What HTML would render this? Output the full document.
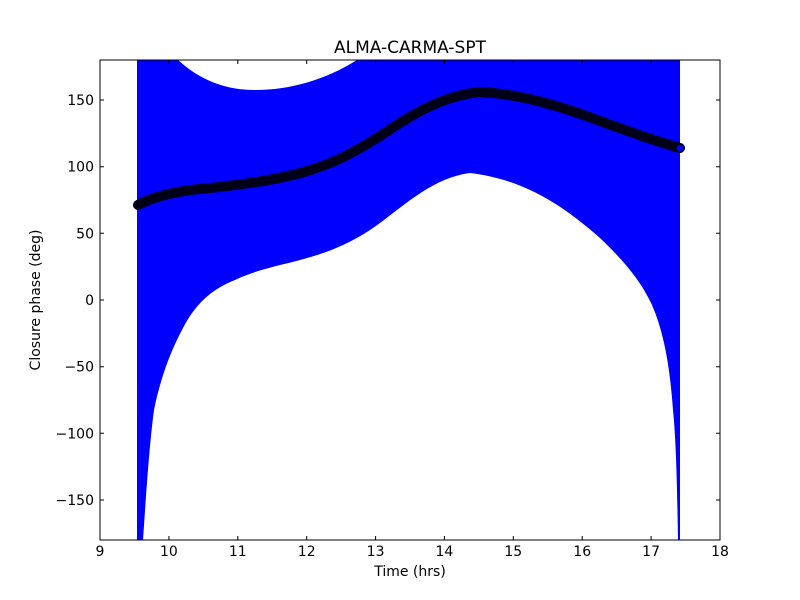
<!DOCTYPE html>
<html><head><style>body{margin:0;background:#fff}svg{display:block}text{font-family:"DejaVu Sans","Liberation Sans",sans-serif;fill:#000}</style></head><body>
<svg width="800" height="600" viewBox="0 0 800 600">
<defs><clipPath id="c"><rect x="100" y="60" width="620" height="480"/></clipPath></defs>
<g clip-path="url(#c)">
<path fill="#0000ff" d="M137,60 L178,60 C200,80 225,90 255,90 C290,90 325,80 357,60 L680,60 L680,540 L678,540 C677,480 676,440 673,410 C670,370 665,335 652,305 C640,280 625,262 600,238 C570,212 530,180 470,173 C430,178 400,210 370,230 C340,250 310,258 280,265 C260,270 245,275 235,280 C210,290 195,305 183,328 C170,352 160,380 154,410 C150,440 147,480 143,540 L137,540 Z"/>
<path fill="none" stroke="#000018" stroke-width="10" stroke-linecap="round" stroke-linejoin="round" d="M138,205 C150,198 175,191 200,189 C240,185 275,180 300,173 C330,165 350,155 380,136 C410,116 440,96 480,92 C520,94 560,106 600,121 C630,132 655,141 680,148"/>
<circle cx="680" cy="148" r="4" fill="#0000ff" stroke="#000018" stroke-width="1.5"/>
</g>
<rect x="100" y="60" width="620" height="480" fill="none" stroke="#000" stroke-width="1"/>
<g stroke="#000" stroke-width="1">
<path d="M168.9,540v-4M237.8,540v-4M306.7,540v-4M375.6,540v-4M444.4,540v-4M513.3,540v-4M582.2,540v-4M651.1,540v-4M168.9,60v4M237.8,60v4M306.7,60v4M375.6,60v4M444.4,60v4M513.3,60v4M582.2,60v4M651.1,60v4"/>
<path d="M100,100h4M100,166.7h4M100,233.3h4M100,300h4M100,366.7h4M100,433.3h4M100,500h4M720,100h-4M720,166.7h-4M720,233.3h-4M720,300h-4M720,366.7h-4M720,433.3h-4M720,500h-4"/>
</g>
<g font-size="14" text-anchor="middle">
<text x="100" y="556">9</text><text x="168.9" y="556">10</text><text x="237.8" y="556">11</text><text x="306.7" y="556">12</text><text x="375.6" y="556">13</text><text x="444.4" y="556">14</text><text x="513.3" y="556">15</text><text x="582.2" y="556">16</text><text x="651.1" y="556">17</text><text x="720" y="556">18</text>
<text x="410" y="576" font-size="14">Time (hrs)</text>
<text x="410" y="53" font-size="17">ALMA-CARMA-SPT</text>
</g>
<g font-size="14" text-anchor="end">
<text x="94" y="105">150</text><text x="94" y="171.7">100</text><text x="94" y="238.3">50</text><text x="94" y="305">0</text><text x="94" y="371.7">−50</text><text x="94" y="438.3">−100</text><text x="94" y="505">−150</text>
</g>
<text x="40" y="300" font-size="14" text-anchor="middle" transform="rotate(-90 40 300)">Closure phase (deg)</text>
</svg>
</body></html>
